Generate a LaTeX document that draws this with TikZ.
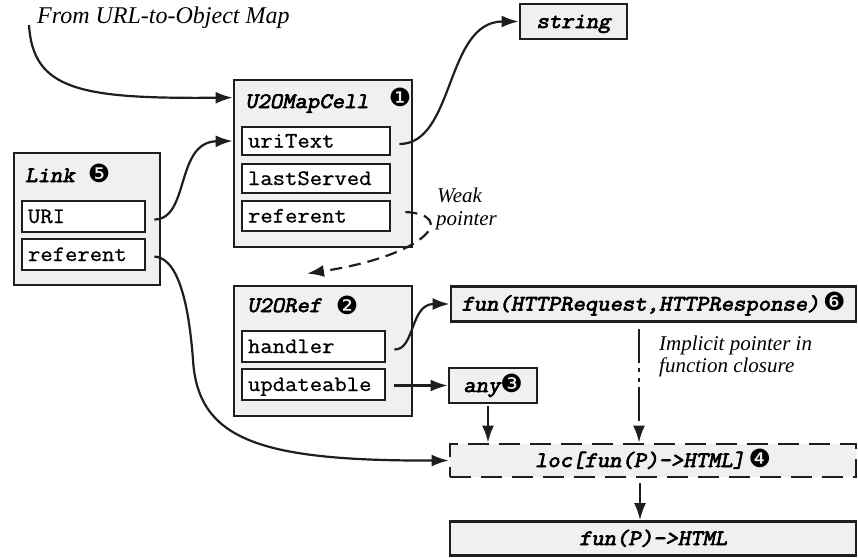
\documentclass[tikz,border=0pt]{standalone}
\usepackage{fontspec}
\setmainfont{Liberation Serif}
\newfontfamily\dingfont{DejaVu Sans}
\newfontfamily\codefont{Latin Modern Mono}[FakeStretch=1.09, FakeBold=0.8]
\newfontfamily\codetitle{Latin Modern Mono}[FakeStretch=1.09, FakeSlant=0.2, FakeBold=3.2]
\usetikzlibrary{arrows.meta,calc}

\definecolor{boxfill}{HTML}{F0F0F0}
\definecolor{ink}{HTML}{1E1E1E}

\newcommand\circnum[1]{{\dingfont\fontsize{25}{25}\selectfont #1}}

\tikzset{
  objbox/.style={draw=ink, line width=2.8pt, fill=boxfill, inner sep=0pt},
  fieldbox/.style={draw=ink, line width=2.8pt, fill=white, inner xsep=6pt,
    inner ysep=0pt, text width=#1, align=left, minimum height=30pt,
    font=\codefont\fontsize{22}{22}\selectfont, text height=13pt, text depth=0pt},
  typebox/.style={objbox, minimum height=35pt,
    font=\codetitle\fontsize{22}{22}\selectfont,
    text height=13pt, text depth=0pt},
  boxtitle/.style={anchor=base west, inner sep=0pt,
    font=\codetitle\fontsize{22}{22}\selectfont},
  numlabel/.style={inner sep=0pt, font=\dingfont\fontsize{25}{25}\selectfont},
  note/.style={anchor=base west, inner sep=0pt,
    font=\fontsize{21}{22}\selectfont\itshape},
  conn/.style={draw=ink, line width=2.2pt, -{Latex[length=17pt,width=12pt]}},
  weakconn/.style={conn, dash pattern=on 12pt off 7pt},
  closureconn/.style={conn, dash pattern=on 34pt off 5pt on 4pt off 6pt on 4pt off 5pt},
}

\begin{document}
\begin{tikzpicture}[x=1pt,y=-1pt]
\useasboundingbox (0,0) rectangle (858,557);

% U2OMapCell object
\node[objbox, minimum width=178pt, minimum height=167pt] (cell) at (323,163.5) {};
\node[boxtitle] (celltitle) at (245,108) {U2OMapCell};
\node[numlabel] (cellnum) at (400,97.5) {❶};
\node[fieldbox=136pt, minimum height=28pt] (uri) at (316,141) {uriText};
\node[fieldbox=136pt, minimum height=29pt] (last) at (316,178.5) {lastServed};
\node[fieldbox=136pt, minimum height=30pt] (celref) at (316,216) {referent};

% Link object
\node[objbox, minimum width=146pt, minimum height=132pt] (link) at (87,219) {};
\node[boxtitle] (linktitle) at (25,182) {Link};
\node[numlabel] (linknum) at (99,173) {❺};
\node[fieldbox=111pt, minimum height=31pt] (lnkuri) at (83.5,216.5) {URI};
\node[fieldbox=111pt, minimum height=31pt] (lnkref) at (83.5,254.5) {referent};

% U2ORef object
\node[objbox, minimum width=178pt, minimum height=130pt] (ref) at (323,351) {};
\node[boxtitle] (reftitle) at (247,312) {U2ORef};
\node[numlabel] (refnum) at (347,305) {❷};
\node[fieldbox=131pt, minimum height=31pt] (hnd) at (313.5,346.5) {handler};
\node[fieldbox=131pt, minimum height=31pt] (upd) at (313.5,384.5) {updateable};

% type boxes
\node[typebox, minimum width=107pt] (str) at (573.5,21.5) {string};
\node[typebox, minimum width=405pt] (fun) at (653.5,304) {fun(HTTPRequest,HTTPResponse)\,\circnum{❻}};
\node[typebox, minimum width=88pt] (any) at (493,385.5) {any\circnum{❸}};
\node[typebox, minimum width=406pt, minimum height=33pt,
      dash pattern=on 21pt off 10pt] (loc) at (653,460.5) {loc[fun(P)->HTML]\,\circnum{❹}};
\node[typebox, minimum width=406pt, minimum height=34pt] (res) at (653,538.5) {fun(P)->HTML};

% annotations
\node[note, font=\fontsize{24}{24}\selectfont\itshape] (srclabel) at (37,23) {From URL-to-Object Map};
\node[note] (weak1) at (437,202) {Weak};
\node[note] (weak2) at (436,225) {pointer};
\node[note] (impl1) at (659,350) {Implicit pointer in};
\node[note] (impl2) at (659,372) {function closure};

% connectors
\coordinate (src) at (29,25);
\draw[conn] (src) .. controls (33,90) and (80,99) .. ($(cell.north west)+(0,19)$);
\draw[conn] ($(uri.east)+(8,3)$) .. controls (455,144) and (445,21.5) .. (str.west);
\draw[conn] ($(lnkuri.east)+(8,3)$) .. controls (190,219) and (175,142) .. (cell.west |- uri);
\draw[conn] ($(lnkref.east)+(8,2)$) .. controls (182,258) and (190,320) .. (193,360)
            .. controls (198,440) and (260,461) .. (loc.west);
\coordinate (weaktip) at ($(ref.north)+(-16,-11)$);
\draw[weakconn] ($(celref.east)+(14,-4)$) .. controls (458,215) and (428,255) .. (weaktip);
\draw[conn] ($(hnd.east)+(8,3)$) .. controls (415,350) and (410,304) .. (fun.west);
\draw[conn] ($(upd.east)+(8,1)$) -- (any.west);
\coordinate (anyx) at ($(any.south)+(-5,2)$);
\draw[conn] (anyx) -- (anyx |- loc.north);
\coordinate (closx) at ($(fun.south)+(-14.5,6)$);
\draw[closureconn] (closx) -- (closx |- loc.north);
\coordinate (resx) at ($(loc.south)+(-13,5)$);
\draw[conn] (resx) -- (resx |- res.north);
\end{tikzpicture}
\end{document}
